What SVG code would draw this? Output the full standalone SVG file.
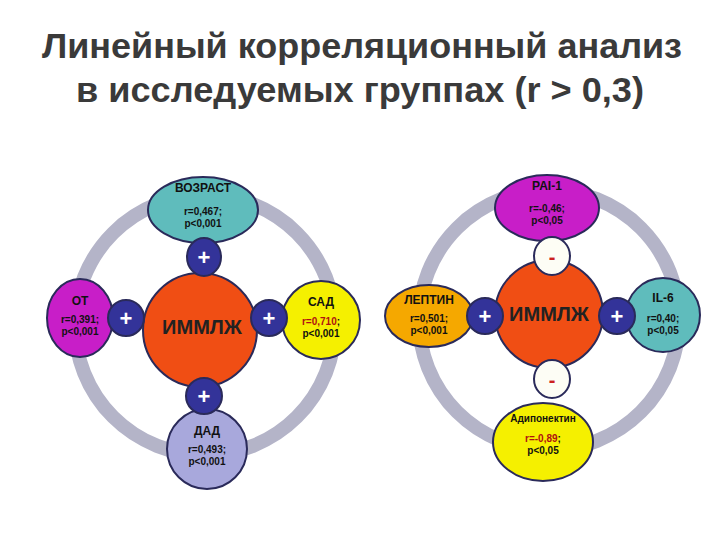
<svg xmlns="http://www.w3.org/2000/svg" width="720" height="540" viewBox="0 0 720 540">
<style>
text{font-family:"Liberation Sans",Arial,sans-serif;font-weight:bold;text-anchor:middle}
.t{font-size:35px;fill:#3a3a3a;font-weight:bold}
.n{stroke:#2a2a5a;stroke-width:2}
.ring{fill:none;stroke:#b4b4c8;stroke-width:14}
.h{font-size:12px;fill:#111}
.s{font-size:10px;fill:#111}
.r{fill:#b01010}
.pl{fill:#333399}
.mi{fill:#fdfdf5}
.sg{font-size:22px;fill:#fff}
.ms{font-size:20px;fill:#cc2020}
.big{font-size:20px;fill:#222}
</style>
<rect width="720" height="540" fill="#fff"/>
<text class="t" x="362" y="58" textLength="640" lengthAdjust="spacingAndGlyphs">Линейный корреляционный анализ</text>
<text class="t" x="360" y="102" textLength="568" lengthAdjust="spacingAndGlyphs">в исследуемых группах (r &gt; 0,3)</text>
<g id="connectors">
<circle class="ring" cx="205" cy="325" r="130"/>
<circle class="ring" cx="549" cy="320" r="130"/>
</g>
<g id="immlzh1"><circle class="n" cx="200" cy="330" r="57" fill="#f04e14"/><text class="big" x="202" y="334">ИММЛЖ</text></g>
<g id="vozrast"><ellipse class="n" cx="203" cy="210" rx="55" ry="33" fill="#5fbcbc"/><text class="h" x="203" y="192">ВОЗРАСТ</text><text class="s" x="203" y="215">r=0,467;</text><text class="s" x="203" y="227">p&lt;0,001</text></g>
<g id="plus1"><ellipse class="n pl" cx="204" cy="257" rx="17" ry="19"/><text class="sg" x="204" y="265">+</text></g>
<g id="ot"><ellipse class="n" cx="80" cy="318" rx="33" ry="39" fill="#c81ec8"/><text class="h" x="80" y="305">ОТ</text><text class="s" x="80" y="323">r=0,391;</text><text class="s" x="80" y="335">p&lt;0,001</text></g>
<g id="plus2"><circle class="n pl" cx="126" cy="318" r="18"/><text class="sg" x="126" y="326">+</text></g>
<g id="sad"><circle class="n" cx="321" cy="320" r="39" fill="#f5f000"/><text class="h" x="321" y="306">САД</text><text class="s" x="321" y="325"><tspan class="r">r=0,710</tspan>;</text><text class="s" x="321" y="337">p&lt;0,001</text></g>
<g id="plus3"><circle class="n pl" cx="269" cy="318" r="18"/><text class="sg" x="269" y="326">+</text></g>
<g id="dad"><circle class="n" cx="207" cy="449" r="40" fill="#a8a8dc"/><text class="h" x="207" y="435">ДАД</text><text class="s" x="207" y="453">r=0,493;</text><text class="s" x="207" y="465">p&lt;0,001</text></g>
<g id="plus4"><circle class="n pl" cx="204" cy="396" r="18"/><text class="sg" x="204" y="404">+</text></g>

<g id="immlzh2"><circle class="n" cx="549" cy="314" r="54" fill="#f04e14"/><text class="big" x="549" y="321">ИММЛЖ</text></g>
<g id="pai1"><ellipse class="n" cx="547" cy="208" rx="52" ry="33" fill="#c81ec8"/><text class="h" x="547" y="190">PAI-1</text><text class="s" x="547" y="212">r=-0,46;</text><text class="s" x="547" y="224">p&lt;0,05</text></g>
<g id="minus1"><ellipse class="n mi" cx="552" cy="256" rx="18" ry="19"/><text class="ms" x="552" y="264">-</text></g>
<g id="leptin"><ellipse class="n" cx="429" cy="316" rx="44" ry="31" fill="#f5a800"/><text class="h" x="429" y="304">ЛЕПТИН</text><text class="s" x="429" y="322">r=0,501;</text><text class="s" x="429" y="334">p&lt;0,001</text></g>
<g id="plus5"><circle class="n pl" cx="485" cy="316" r="18"/><text class="sg" x="485" y="324">+</text></g>
<g id="il6"><circle class="n" cx="663" cy="315" r="37" fill="#5fbcbc"/><text class="h" x="663" y="302">IL-6</text><text class="s" x="663" y="322">r=0,40;</text><text class="s" x="663" y="334">p&lt;0,05</text></g>
<g id="plus6"><circle class="n pl" cx="617" cy="316" r="18"/><text class="sg" x="617" y="324">+</text></g>
<g id="adipo"><ellipse class="n" cx="543" cy="442" rx="50" ry="39" fill="#f5f000"/><text class="s" x="543" y="422">Адипонектин</text><text class="s" x="543" y="442"><tspan class="r">r=-0,89</tspan>;</text><text class="s" x="543" y="454">p&lt;0,05</text></g>
<g id="minus2"><ellipse class="n mi" cx="552" cy="379" rx="18" ry="19"/><text class="ms" x="552" y="387">-</text></g>
</svg>
